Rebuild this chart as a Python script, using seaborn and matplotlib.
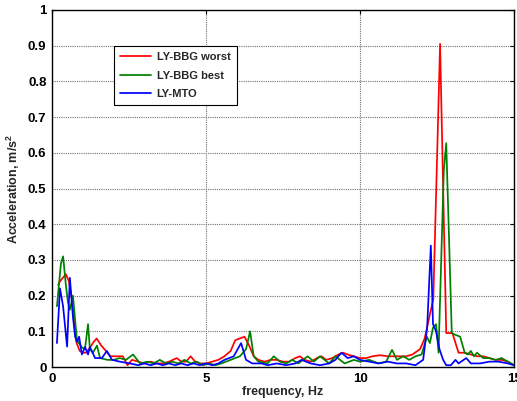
import numpy as np
import pandas as pd
import matplotlib
matplotlib.use("Agg")
import matplotlib.pyplot as plt
import seaborn as sns

# ---- data ----
worst_f = [0.2, 0.26, 0.45, 0.55, 0.65, 0.75, 0.8, 0.9, 1.0, 1.1, 1.2, 1.35, 1.45, 1.6, 1.75, 1.9,
           2.1, 2.3, 2.45, 2.6, 2.8, 3.0, 3.2, 3.4, 3.6, 3.8, 4.05, 4.2, 4.35, 4.5, 4.65, 4.8,
           5.0, 5.2, 5.4, 5.6, 5.8, 5.95, 6.1, 6.25, 6.4, 6.55, 6.7, 6.9, 7.1, 7.3, 7.5, 7.7,
           7.9, 8.05, 8.2, 8.4, 8.6, 8.75, 8.9, 9.1, 9.3, 9.45, 9.6, 9.8, 10.0, 10.2, 10.4,
           10.65, 10.9, 11.1, 11.3, 11.5, 11.7, 11.95, 12.1, 12.25, 12.38, 12.6, 12.8, 13.0,
           13.2, 13.4, 13.6, 13.8, 14.0, 14.2, 14.4, 14.6, 14.8, 15.0]
worst_a = [0.23, 0.24, 0.26, 0.24, 0.19, 0.10, 0.067, 0.045, 0.04, 0.04, 0.05, 0.07, 0.08, 0.06, 0.045, 0.03,
           0.03, 0.03, 0.005, 0.02, 0.015, 0.01, 0.015, 0.01, 0.01, 0.015, 0.025, 0.015, 0.015, 0.03, 0.015, 0.01,
           0.01, 0.015, 0.02, 0.03, 0.045, 0.075, 0.08, 0.085, 0.06, 0.03, 0.02, 0.015, 0.02, 0.02, 0.015, 0.015,
           0.025, 0.03, 0.02, 0.015, 0.025, 0.03, 0.02, 0.025, 0.035, 0.04, 0.035, 0.03, 0.025, 0.025, 0.03,
           0.033, 0.03, 0.03, 0.03, 0.03, 0.035, 0.05, 0.08, 0.14, 0.19, 0.905, 0.095, 0.095,
           0.04, 0.04, 0.035, 0.03, 0.03, 0.025, 0.02, 0.02, 0.015, 0.005]

best_f = [0.16, 0.29, 0.36, 0.45, 0.52, 0.58, 0.68, 0.81, 0.97, 1.07, 1.17, 1.23, 1.33, 1.46, 1.56,
          1.8, 2.0, 2.2, 2.4, 2.63, 2.86, 3.1, 3.3, 3.5, 3.7, 3.9, 4.1, 4.3, 4.5, 4.7, 4.9, 5.1,
          5.3, 5.5, 5.8, 6.1, 6.3, 6.43, 6.55, 6.7, 7.0, 7.2, 7.4, 7.6, 7.8, 8.0, 8.3, 8.5, 8.7,
          9.0, 9.2, 9.5, 9.8, 10.0, 10.3, 10.6, 10.85, 11.04, 11.2, 11.4, 11.6, 11.8, 12.0,
          12.17, 12.27, 12.37, 12.47, 12.55, 12.72, 12.8, 12.98, 13.1, 13.25, 13.4, 13.5, 13.6,
          13.7, 13.8, 14.0, 14.2, 14.4, 14.6, 14.8, 15.0]
best_a = [0.17, 0.29, 0.31, 0.23, 0.18, 0.16, 0.20, 0.075, 0.055, 0.05, 0.12, 0.05, 0.04, 0.06, 0.025,
          0.02, 0.02, 0.025, 0.02, 0.035, 0.01, 0.015, 0.01, 0.02, 0.01, 0.015, 0.01, 0.02, 0.01, 0.015, 0.005, 0.01,
          0.005, 0.01, 0.02, 0.03, 0.05, 0.10, 0.03, 0.015, 0.01, 0.03, 0.015, 0.01, 0.02, 0.01, 0.03, 0.015, 0.03,
          0.01, 0.03, 0.01, 0.02, 0.015, 0.02, 0.01, 0.015, 0.048, 0.02, 0.03, 0.02, 0.03, 0.035,
          0.085, 0.067, 0.11, 0.12, 0.04, 0.55, 0.627, 0.095, 0.09, 0.085, 0.04, 0.035, 0.045,
          0.03, 0.04, 0.025, 0.025, 0.02, 0.025, 0.015, 0.005]

mto_f = [0.16, 0.26, 0.36, 0.49, 0.58, 0.68, 0.75, 0.81, 0.88, 0.97, 1.07, 1.17, 1.23, 1.4, 1.62,
         1.78, 1.95, 2.2, 2.53, 2.8, 3.0, 3.2, 3.4, 3.6, 3.8, 4.0, 4.2, 4.4, 4.6, 4.8, 5.0, 5.2,
         5.4, 5.6, 5.9, 6.14, 6.3, 6.5, 6.8, 7.0, 7.3, 7.6, 7.9, 8.1, 8.4, 8.7, 9.0, 9.2, 9.4,
         9.6, 9.8, 10.0, 10.3, 10.6, 10.9, 11.2, 11.5, 11.8, 12.05, 12.18, 12.3, 12.37, 12.47,
         12.58, 12.7, 12.8, 12.95, 13.1, 13.2, 13.45, 13.6, 13.9, 14.2, 14.5, 14.8, 15.0]
mto_a = [0.067, 0.22, 0.17, 0.057, 0.25, 0.14, 0.085, 0.07, 0.085, 0.035, 0.056, 0.035, 0.056, 0.025, 0.025,
         0.045, 0.02, 0.015, 0.01, 0.005, 0.01, 0.005, 0.01, 0.005, 0.01, 0.005, 0.01, 0.005, 0.01, 0.005, 0.01, 0.005,
         0.01, 0.02, 0.03, 0.067, 0.02, 0.01, 0.01, 0.005, 0.01, 0.005, 0.01, 0.02, 0.01, 0.005, 0.01, 0.02, 0.04,
         0.025, 0.03, 0.02, 0.015, 0.01, 0.015, 0.01, 0.01, 0.005, 0.02, 0.11, 0.34, 0.12, 0.10,
         0.05, 0.02, 0.005, 0.005, 0.02, 0.01, 0.025, 0.01, 0.01, 0.015, 0.015, 0.01, 0.005]

series_names = ["LY-BBG worst", "LY-BBG best", "LY-MTO"]
series_colors = ["#ff0000", "#008000", "#0000ff"]

frames = []
for name, f, a in zip(series_names, [worst_f, best_f, mto_f], [worst_a, best_a, mto_a]):
    frames.append(pd.DataFrame({"freq": f, "acc": a, "series": name}))
df = pd.concat(frames, ignore_index=True)

sns.set_style("white")
plt.rcParams["font.family"] = ["Liberation Sans", "DejaVu Sans"]
plt.rcParams["mathtext.fontset"] = "custom"
plt.rcParams["mathtext.rm"] = "Liberation Sans"
plt.rcParams["mathtext.bf"] = "Liberation Sans:bold"

fig = plt.figure(figsize=(5.17, 4.01), dpi=100)
ax = fig.add_axes([52/517, 1 - 367/401, 462/517, 357/401])

sns.lineplot(data=df, x="freq", y="acc", hue="series", hue_order=series_names,
             palette=dict(zip(series_names, series_colors)), sort=False,
             estimator=None, linewidth=1.25, ax=ax)

ax.set_xlim(0, 15)
ax.set_ylim(0, 1)
ax.set_xticks([0, 5, 10, 15])
ax.set_xticklabels(["0", "5", "10", "15"])
yt = [0, 0.1, 0.2, 0.3, 0.4, 0.5, 0.6, 0.7, 0.8, 0.9, 1]
ax.set_yticks(yt)
ax.set_yticklabels(["0", "0.1", "0.2", "0.3", "0.4", "0.5", "0.6", "0.7", "0.8", "0.9", "1"])
for lbl in ax.get_xticklabels() + ax.get_yticklabels():
    lbl.set_fontweight("bold")
    lbl.set_fontsize(9.5)
ax.tick_params(direction="in", top=True, right=True, length=3, width=0.8, pad=4, colors="black")

ax.grid(True, linestyle=(0, (1, 1)), color="0.45", linewidth=0.8)
for s in ax.spines.values():
    s.set_color("black")
    s.set_linewidth(1.0)

ax.set_xlabel("frequency, Hz", fontsize=9, fontweight="bold", labelpad=1)
ax.set_ylabel("Acceleration, m/s$^{\\mathbf{2}}$", fontsize=9, fontweight="bold", labelpad=4)

leg = ax.legend(loc="upper left", bbox_to_anchor=(0.134, 0.899), borderaxespad=0,
                frameon=True, fancybox=False, framealpha=1, edgecolor="black",
                handlelength=2.8, handletextpad=0.5, borderpad=0.55, labelspacing=0.75,
                prop={"weight": "bold", "size": 8})
leg.get_frame().set_linewidth(0.8)
leg.set_title(None)

fig.savefig("out.png", dpi=100)
